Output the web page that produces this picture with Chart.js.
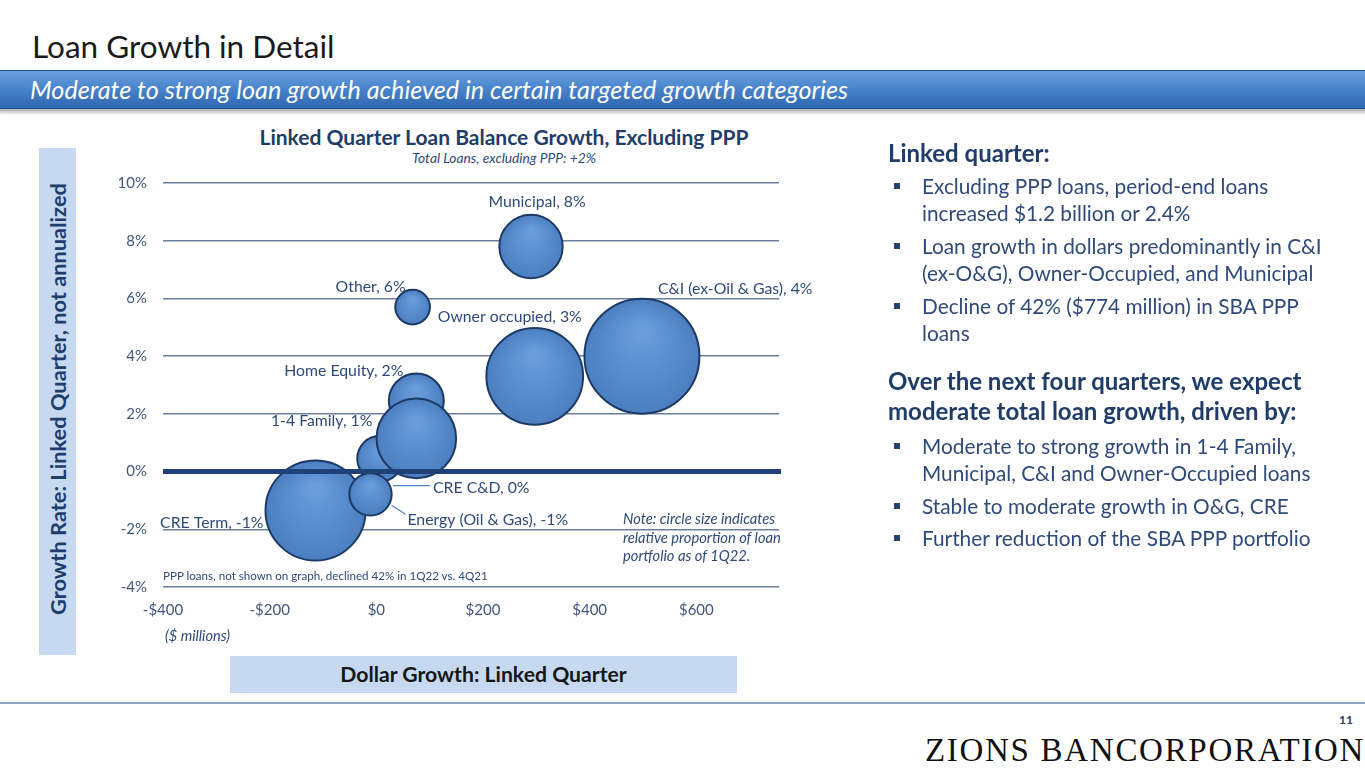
<!DOCTYPE html>
<html>
<head>
<meta charset="utf-8">
<script src="https://cdn.jsdelivr.net/npm/chart.js@4.4.1/dist/chart.umd.min.js"></script>
<style>
  html, body { margin:0; padding:0; background:#fff; }
  body { width:1365px; height:768px; position:relative; overflow:hidden; font-family:Lato, "Open Sans", sans-serif; }
  .abs { position:absolute; white-space:nowrap; }
  #title { left:32px; top:26px; font-size:31.5px; color:#1a1a1a; line-height:40px; }
  #banner { left:-6px; top:70px; width:1380px; height:37px; border-radius:6px;
    background:linear-gradient(#6aa0de 0%, #4a85cc 45%, #2f67b0 100%);
    border:1px solid #1f4f8a; box-shadow:0 3px 4px rgba(0,0,0,0.35); }
  #bannerText { left:30px; top:71px; line-height:37px; font-size:25.2px; font-style:italic; color:#fff; }
  #cTitle { left:104px; width:800px; top:124px; line-height:26px; text-align:center; font-weight:700; font-size:21px; color:#1f3d6b; }
  #cSub { left:104px; width:800px; top:149px; line-height:18px; text-align:center; font-style:italic; font-size:13.8px; color:#2e4a7b; }
  #yBox { left:39px; top:148px; width:37px; height:507px; background:#c6d9f0; }
  #yTitle { left:57px; top:399px; transform:translate(-50%,-50%) rotate(-90deg); font-weight:700; font-size:21.8px; color:#1f3d6b; }
  #xBox { left:230px; top:656px; width:507px; height:37px; background:#c6d9f0; }
  #xTitle { left:230px; top:656px; width:507px; line-height:37px; text-align:center; font-weight:700; font-size:21.2px; color:#161616; }
  #chartWrap { left:100px; top:120px; width:808px; height:530px; }
  #units { left:165px; top:627px; font-size:14.6px; font-style:italic; color:#2e4a7b; }
  #ppp { left:163px; top:569px; font-size:11.6px; color:#2e4a7b; }
  #note { left:623px; top:509px; font-size:14.7px; line-height:18.5px; font-style:italic; color:#2e4a7b; }
  .rt { color:#2e4a7b; font-size:20.8px; line-height:27px; }
  .hd { color:#1f3d6b; font-weight:700; font-size:24px; line-height:30px; }
  .bul::before { content:""; position:absolute; left:-28px; top:11px; width:6px; height:6px; background:#23406e; }
  #footLine { left:0; top:702px; width:1365px; height:2px; background:#8ea3c0; }
  #pg { left:1339px; top:712px; font-size:12px; font-weight:700; color:#1f3d6b; }
  #logo { left:925px; top:731px; font-family:"Liberation Serif", serif; font-size:33px; line-height:38px; color:#111; letter-spacing:1.7px; }
</style>
</head>
<body>
<div class="abs" id="title">Loan Growth in Detail</div>
<div class="abs" id="banner"></div>
<div class="abs" id="bannerText">Moderate to strong loan growth achieved in certain targeted growth categories</div>

<div class="abs" id="yBox"></div>
<div class="abs" id="yTitle">Growth Rate: Linked Quarter, not annualized</div>
<div class="abs" id="xBox"></div>
<div class="abs" id="xTitle">Dollar Growth: Linked Quarter</div>

<div class="abs" id="cTitle">Linked Quarter Loan Balance Growth, Excluding PPP</div>
<div class="abs" id="cSub">Total Loans, excluding PPP: +2%</div>
<div class="abs" id="chartWrap"><canvas id="c" width="808" height="530"></canvas></div>
<div class="abs" id="ppp">PPP loans, not shown on graph, declined 42% in 1Q22 vs. 4Q21</div>
<div class="abs" id="note">Note: circle size indicates<br>relative proportion of loan<br>portfolio as of 1Q22.</div>
<div class="abs" id="units">($ millions)</div>

<div class="abs hd" style="left:888px;top:138px;">Linked quarter:</div>
<div class="abs rt bul" style="left:922px;top:172px;">Excluding PPP loans, period-end loans<br>increased $1.2 billion or 2.4%</div>
<div class="abs rt bul" style="left:922px;top:232px;">Loan growth in dollars predominantly in C&amp;I<br>(ex-O&amp;G), Owner-Occupied, and Municipal</div>
<div class="abs rt bul" style="left:922px;top:292px;">Decline of 42% ($774 million) in SBA PPP<br>loans</div>
<div class="abs hd" style="left:888px;top:366px;">Over the next four quarters, we expect<br>moderate total loan growth, driven by:</div>
<div class="abs rt bul" style="left:922px;top:432px;">Moderate to strong growth in 1-4 Family,<br>Municipal, C&amp;I and Owner-Occupied loans</div>
<div class="abs rt bul" style="left:922px;top:492px;">Stable to moderate growth in O&amp;G, CRE</div>
<div class="abs rt bul" style="left:922px;top:524px;">Further reduction of the SBA PPP portfolio</div>

<div class="abs" id="footLine"></div>
<div class="abs" id="pg">11</div>
<div class="abs" id="logo">ZIONS BANCORPORATION</div>

<script>
// ---- Data ----
const categories = ['CRE Term', 'CRE C&D', 'Energy (Oil & Gas)', 'Home Equity', '1-4 Family', 'Other', 'Municipal', 'Owner occupied', 'C&I (ex-Oil & Gas)'];
const dollarGrowth = [-114, 7, -11, 75, 75, 68, 290, 297, 498];          // $ millions, linked quarter
const growthRate   = [-1.35, 0.45, -0.79, 2.45, 1.15, 5.7, 7.8, 3.3, 4.0]; // %, linked quarter
const portfolioBalance = [10.6, 2.2, 1.9, 3.2, 6.7, 1.27, 4.25, 9.9, 14.0]; // relative loan portfolio size (est., $B)
const yTicks = [-4, -2, 0, 2, 4, 6, 8, 10];
const xTicks = [-400, -200, 0, 200, 400, 600];

// ---- Styling ----
const MAX_R = 57.5;
const maxBal = Math.max(...portfolioBalance);
// label placement relative to bubble centre (px): [dx, dy, align, leader]
const labelLayout = [
  [-52, 12, 'right', null],
  [53, 29, 'left', [13, 27, 50, 27]],
  [37, 26, 'left', [21, 11, 35, 20]],
  [-13, -30, 'right', null],
  [-44, -17, 'right', null],
  [-7, -20, 'right', null],
  [6, -45, 'center', null],
  [-97, -59, 'left', null],
  [16, -67, 'left', null]
];

const points = categories.map((c, i) => ({
  x: dollarGrowth[i], y: growthRate[i], r: MAX_R * Math.sqrt(portfolioBalance[i] / maxBal)
}));

const textColor = '#2e4a7b';
const fontFam = 'Lato, "Open Sans", sans-serif';

const overlay = {
  id: 'overlay',
  afterDatasetsDraw(chart) {
    const {ctx, chartArea, scales} = chart;
    const y0 = scales.y.getPixelForValue(0);
    ctx.save();
    ctx.strokeStyle = '#1f4178';
    ctx.lineWidth = 5;
    ctx.beginPath();
    ctx.moveTo(chartArea.left, y0);
    ctx.lineTo(chartArea.right + 2, y0);
    ctx.stroke();

    const meta = chart.getDatasetMeta(0);
    ctx.font = '15.8px ' + fontFam;
    ctx.fillStyle = textColor;
    ctx.textBaseline = 'middle';
    meta.data.forEach((el, i) => {
      const [dx, dy, align, leader] = labelLayout[i];
      const v = growthRate[i];
      const txt = categories[i] + ', ' + Math.round(v) + '%';
      ctx.textAlign = align;
      ctx.fillText(txt, el.x + dx, el.y + dy);
      if (leader) {
        ctx.strokeStyle = '#4f83c2';
        ctx.lineWidth = 1.2;
        ctx.beginPath();
        ctx.moveTo(el.x + leader[0], el.y + leader[1]);
        ctx.lineTo(el.x + leader[2], el.y + leader[3]);
        ctx.stroke();
      }
    });
    ctx.restore();
  }
};

function bubbleFill(c) {
  const base = '#5589c9';
  if (c.type !== 'data' || !c.raw) return base;
  const ch = c.chart;
  const xs = ch.scales && ch.scales.x, ys = ch.scales && ch.scales.y;
  if (!xs || !ys || !isFinite(xs.getPixelForValue(c.raw.x))) return base;
  const px = xs.getPixelForValue(c.raw.x), py = ys.getPixelForValue(c.raw.y), r = c.raw.r;
  const g = ch.ctx.createRadialGradient(px, py - r * 0.45, r * 0.1, px, py, r);
  g.addColorStop(0, '#6a9cda');
  g.addColorStop(1, '#4c7fc0');
  return g;
}

new Chart(document.getElementById('c'), {
  type: 'bubble',
  data: {
    datasets: [{
      label: 'Loan categories',
      data: points,
      backgroundColor: bubbleFill,
      borderColor: '#1d3a66',
      borderWidth: 2,
      hoverBorderWidth: 2
    }]
  },
  plugins: [overlay],
  options: {
    responsive: false,
    animation: false,
    events: [],
    layout: { padding: { left: 0, right: 129, top: 63, bottom: 0 } },
    plugins: {
      legend: { display: false },
      tooltip: { enabled: false },
      title: { display: false },
      subtitle: { display: false }
    },
    scales: {
      x: {
        type: 'linear',
        min: -400,
        max: 755,
        afterFit(s) { s.height = 63; },
        afterBuildTicks(s) { s.ticks = xTicks.map(v => ({ value: v })); },
        grid: { display: false, drawTicks: false },
        border: { display: false },
        ticks: {
          padding: 14,
          color: '#40567c',
          font: { family: fontFam, size: 15 },
          callback: v => (v < 0 ? '-$' + Math.abs(v) : '$' + v)
        }
      },
      y: {
        type: 'linear',
        min: -4,
        max: 10,
        afterFit(s) { s.width = 63; },
        afterBuildTicks(s) { s.ticks = yTicks.map(v => ({ value: v })); },
        grid: {
          drawTicks: false,
          lineWidth: 1.5,
          color: c => (c.tick && c.tick.value === 0 ? 'rgba(0,0,0,0)' : '#6a7ea0')
        },
        border: { display: false },
        ticks: {
          padding: 16,
          color: '#40567c',
          font: { family: fontFam, size: 15 },
          callback: v => v + '%'
        }
      }
    }
  }
});
</script>
</body>
</html>
